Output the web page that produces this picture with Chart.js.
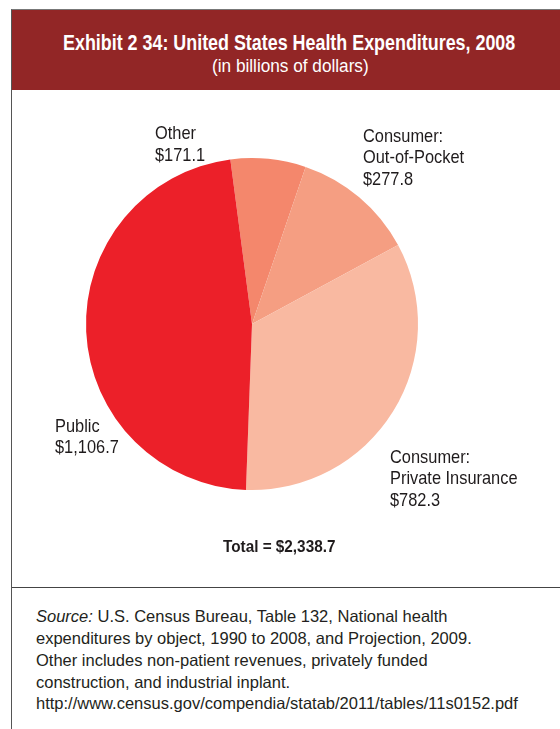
<!DOCTYPE html>
<html>
<head>
<meta charset="utf-8">
<script src="https://cdn.jsdelivr.net/npm/chart.js@4"></script>
<style>
  html, body { margin: 0; padding: 0; background: #fff; }
  body { width: 560px; height: 729px; position: relative; overflow: hidden;
         font-family: "Liberation Sans", Arial, sans-serif; color: #231f20; }
  .frame { position: absolute; left: 11px; top: 9px; width: 560px; height: 730px;
           border-left: 1px solid #555; border-top: 1px solid #777; }
  .header { position: absolute; left: 12px; top: 10px; width: 548px; height: 80px; background: #922626; color: #fff; }
  .narrow { position: absolute; white-space: nowrap; transform-origin: 0 0; }
  .header .t { left: 51px; top: 19.7px; font-weight: bold; font-size: 22px; transform: scaleX(0.813); }
  .header .s { left: 200px; top: 46.4px; font-size: 18px; transform: scaleX(0.955); }
  .rule { position: absolute; left: 12px; top: 587px; width: 548px; height: 1px; background: #444; }
  .chart { position: absolute; left: 12px; top: 90px; width: 548px; height: 497px; }
  .source { left: 36px; top: 606.4px; font-size: 16.5px; line-height: 21.7px; }
</style>
</head>
<body>
<div class="frame"></div>
<div class="header">
  <div class="narrow t">Exhibit 2 34: United States Health Expenditures, 2008</div>
  <div class="narrow s">(in billions of dollars)</div>
</div>
<div class="chart"><canvas id="pie" width="548" height="497"></canvas></div>
<div class="rule"></div>
<div class="narrow source">
  <i>Source:</i> U.S. Census Bureau, Table 132, National health<br>
  expenditures by object, 1990 to 2008, and Projection, 2009.<br>
  Other includes non-patient revenues, privately funded<br>
  construction, and industrial inplant.<br>
  http://www.census.gov/compendia/statab/2011/tables/11s0152.pdf
</div>
<script>
// spending categories, billions of dollars
const categories = ['Other', 'Consumer:\nOut-of-Pocket', 'Consumer:\nPrivate Insurance', 'Public'];
const spending = [171.1, 277.8, 782.3, 1106.7];
const sliceColors = ['#f4876c', '#f59e82', '#f9b9a1', '#ec2029'];
const totalLabel = 'Total = $2,338.7';

// label offsets from the pie centre (left edge of text, baseline of first line)
const labelOffsets = [[-97, -185], [111, -182.3], [138, 138.7], [-197, 107.7]];
const lineGap = 21.5;

const fmt = v => '$' + v.toLocaleString('en-US', { minimumFractionDigits: 1, maximumFractionDigits: 1 });

// draws condensed text by squeezing the canvas horizontally
function narrowText(ctx, text, x, y, squeeze) {
  ctx.save();
  ctx.translate(x, y);
  ctx.scale(squeeze, 1);
  ctx.fillText(text, 0, 0);
  ctx.restore();
}

const sliceLabels = {
  id: 'sliceLabels',
  afterDraw(chart) {
    const ctx = chart.ctx;
    const arc = chart.getDatasetMeta(0).data[0];
    const cx = arc.x, cy = arc.y;
    ctx.save();
    ctx.fillStyle = '#1f1b1c';
    ctx.textBaseline = 'alphabetic';
    ctx.textAlign = 'left';
    ctx.font = '18.5px "Liberation Sans", Arial, sans-serif';
    categories.forEach((name, i) => {
      const lines = name.split('\n').concat(fmt(spending[i]));
      const [dx, dy] = labelOffsets[i];
      lines.forEach((ln, j) => narrowText(ctx, ln, cx + dx, cy + dy + j * lineGap, 0.886));
    });
    ctx.font = 'bold 17px "Liberation Sans", Arial, sans-serif';
    narrowText(ctx, totalLabel, cx - 29, cy + 227.7, 0.9);
    ctx.restore();
  }
};

new Chart(document.getElementById('pie'), {
  type: 'pie',
  data: {
    labels: categories,
    datasets: [{
      data: spending,
      backgroundColor: sliceColors,
      borderWidth: 0
    }]
  },
  options: {
    responsive: false,
    animation: false,
    rotation: -7.5,
    layout: { padding: { left: 74, right: 142, top: 68, bottom: 97 } },
    plugins: { legend: { display: false }, tooltip: { enabled: false } }
  },
  plugins: [sliceLabels]
});
</script>
</body>
</html>
